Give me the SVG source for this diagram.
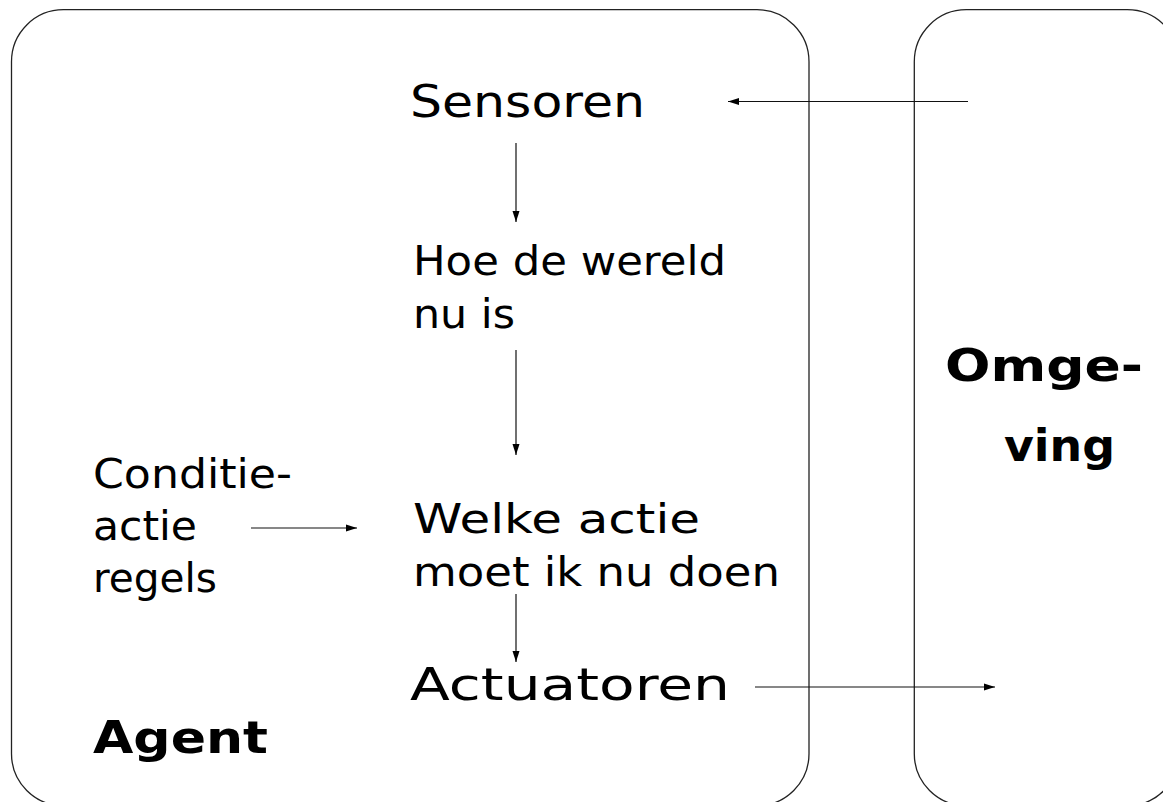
<svg xmlns="http://www.w3.org/2000/svg" width="1163" height="802" viewBox="0 0 1163 802">
<style>
.box{fill:none;stroke:#222;stroke-width:1.3}
.c{fill:none;stroke:#111;stroke-width:1.2}
text{font-family:"DejaVu Sans","Liberation Sans",sans-serif;fill:#000}
.big{font-size:45px}
.mid{font-size:41px}
.b{font-size:45px;font-weight:bold}
</style>
<defs>
<marker id="ah" markerUnits="userSpaceOnUse" markerWidth="12" markerHeight="8" refX="11" refY="4" orient="auto">
<path d="M0,0.5 L11,4 L0,7.5 z" fill="#000"/>
</marker>
</defs>
<rect x="0" y="0" width="1163" height="802" fill="#fff"/>
<g id="agent-box"><rect class="box" x="11.5" y="9.7" width="797.5" height="796" rx="52" ry="52"/></g>
<g id="omgeving-box"><rect class="box" x="914.3" y="9.7" width="265" height="796" rx="52" ry="52"/></g>
<g id="sensoren"><text class="big" x="410" y="117" textLength="235" lengthAdjust="spacingAndGlyphs">Sensoren</text></g>
<g id="hoe"><text class="mid" x="413" y="275" textLength="313" lengthAdjust="spacingAndGlyphs">Hoe de wereld</text><text class="mid" x="413" y="328" textLength="102" lengthAdjust="spacingAndGlyphs">nu is</text></g>
<g id="welke"><text class="mid" x="413" y="533" textLength="287" lengthAdjust="spacingAndGlyphs">Welke actie</text><text class="mid" x="413" y="586" textLength="367" lengthAdjust="spacingAndGlyphs">moet ik nu doen</text></g>
<g id="conditie"><text class="mid" x="93" y="488" textLength="199" lengthAdjust="spacingAndGlyphs">Conditie-</text><text class="mid" x="93" y="540" textLength="104" lengthAdjust="spacingAndGlyphs">actie</text><text class="mid" x="93" y="592" textLength="124" lengthAdjust="spacingAndGlyphs">regels</text></g>
<g id="actuatoren"><text class="big" x="410" y="700" textLength="320" lengthAdjust="spacingAndGlyphs">Actuatoren</text></g>
<g id="agent-label"><text class="b" x="93" y="753" textLength="175" lengthAdjust="spacingAndGlyphs">Agent</text></g>
<g id="omgeving-label"><text class="b" x="945" y="381" textLength="198" lengthAdjust="spacingAndGlyphs">Omge-</text><text class="b" x="1004" y="461" textLength="111" lengthAdjust="spacingAndGlyphs">ving</text></g>
<g id="connectors">
<line class="c" x1="968" y1="101.5" x2="728" y2="101.5" marker-end="url(#ah)"/>
<line class="c" x1="516" y1="143" x2="516" y2="222" marker-end="url(#ah)"/>
<line class="c" x1="516" y1="350" x2="516" y2="455" marker-end="url(#ah)"/>
<line class="c" x1="251" y1="528" x2="357" y2="528" marker-end="url(#ah)"/>
<line class="c" x1="516" y1="594" x2="516" y2="662" marker-end="url(#ah)"/>
<line class="c" x1="755" y1="687" x2="995" y2="687" marker-end="url(#ah)"/>
</g>
</svg>
